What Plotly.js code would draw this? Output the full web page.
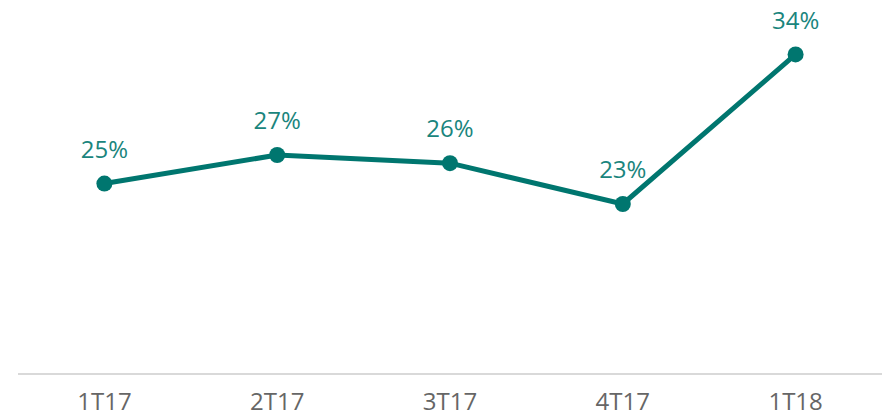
<!DOCTYPE html>
<html>
<head>
<meta charset="utf-8">
<script src="https://cdn.plot.ly/plotly-3.0.1.min.js"></script>
<style>html,body{margin:0;padding:0;background:#fff;}#chart{width:882px;height:413px;}</style>
</head>
<body>
<div id="chart"></div>
<script>
const categories = ["1T17", "2T17", "3T17", "4T17", "1T18"];
const values = [24.6, 26.7, 26.1, 23.1, 34.1];
const labels = ["25%", "27%", "26%", "23%", "34%"];

const lineTrace = {
  x: categories,
  y: values,
  type: "scatter",
  mode: "lines+markers",
  line: {color: "#00766f", width: 5},
  marker: {color: "#00766f", size: 16},
  cliponaxis: false,
  hoverinfo: "none"
};

const labelTrace = {
  x: categories,
  y: values,
  type: "scatter",
  mode: "markers+text",
  text: labels,
  textposition: "top center",
  textfont: {family: "Open Sans", size: 24, color: "#1a857d"},
  marker: {color: "rgba(0,0,0,0)", size: 30},
  cliponaxis: false,
  hoverinfo: "none"
};

const layout = {
  width: 882, height: 413,
  margin: {l: 18, r: 0, t: 20, b: 40},
  paper_bgcolor: "#fff", plot_bgcolor: "#fff",
  showlegend: false,
  xaxis: {
    type: "category",
    range: [-0.5, 4.5],
    showline: true, linecolor: "#d9d9d9", linewidth: 2,
    showgrid: false, zeroline: false, ticks: "",
    ticklabelstandoff: 6,
    tickfont: {family: "Open Sans", size: 24, color: "#666666"}
  },
  yaxis: {
    range: [10.67, 36.63],
    visible: false, showgrid: false, zeroline: false
  }
};

Plotly.newPlot("chart", [lineTrace, labelTrace], layout, {displayModeBar: false, staticPlot: true});
</script>
</body>
</html>
